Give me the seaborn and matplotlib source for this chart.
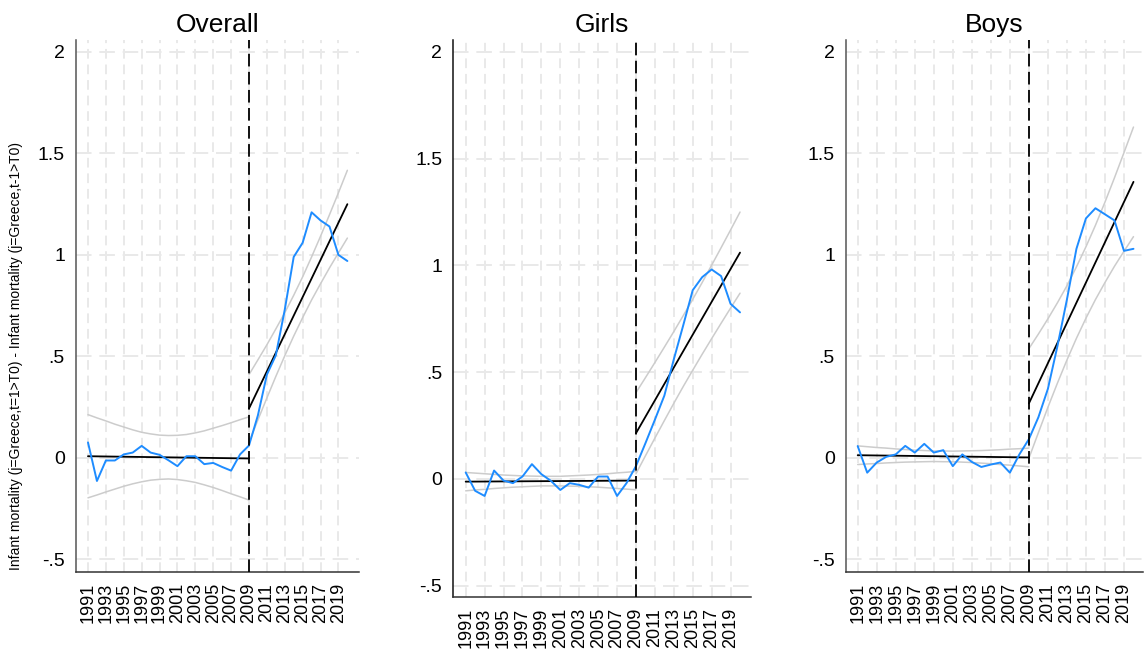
import matplotlib
matplotlib.use("Agg")
import matplotlib.pyplot as plt
import seaborn as sns
import pandas as pd

# ---------------- data ----------------
years = list(range(1991, 2021))
pre_years = list(range(1991, 2010))
post_years = list(range(2009, 2021))
treat_year = 2009

panel_titles = ["Overall", "Girls", "Boys"]

overall_gap = [0.076, -0.114, -0.013, -0.013, 0.017, 0.026, 0.059, 0.026, 0.015, -0.012,
               -0.041, 0.008, 0.008, -0.031, -0.025, -0.045, -0.063, 0.017, 0.061,
               0.21, 0.41, 0.505, 0.73, 0.99, 1.06, 1.21, 1.17, 1.14, 1.0, 0.97]
girls_gap = [0.030, -0.056, -0.080, 0.039, -0.008, -0.020, 0.011, 0.069, 0.022, -0.009,
             -0.052, -0.020, -0.028, -0.041, 0.011, 0.011, -0.080, -0.020, 0.06,
             0.167, 0.277, 0.39, 0.56, 0.72, 0.884, 0.945, 0.981, 0.95, 0.82, 0.78]
boys_gap = [0.058, -0.073, -0.023, 0.005, 0.017, 0.059, 0.026, 0.069, 0.026, 0.038,
            -0.041, 0.017, -0.020, -0.045, -0.033, -0.023, -0.073, 0.017, 0.092,
            0.2, 0.34, 0.55, 0.78, 1.03, 1.18, 1.23, 1.20, 1.17, 1.02, 1.03]

# linear trend end points (pre: 1991-2009, post: 2009-2020)
overall_fit_pre = [0.008, -0.003]
overall_fit_post = [0.243, 1.25]
girls_fit_pre = [-0.013, -0.008]
girls_fit_post = [0.214, 1.06]
boys_fit_pre = [0.013, 0.002]
boys_fit_post = [0.268, 1.36]

# confidence bands
overall_pre_hi = [0.213, 0.197, 0.182, 0.166, 0.152, 0.138, 0.126, 0.118, 0.112, 0.110,
                  0.111, 0.115, 0.123, 0.133, 0.146, 0.159, 0.173, 0.188, 0.202]
overall_pre_lo = [-0.197, -0.183, -0.168, -0.154, -0.140, -0.128, -0.118, -0.110, -0.106, -0.104,
                  -0.107, -0.113, -0.121, -0.133, -0.146, -0.161, -0.177, -0.192, -0.208]
overall_post_hi = [0.410, 0.483, 0.557, 0.635, 0.715, 0.801, 0.892, 0.990, 1.092, 1.198, 1.306, 1.417]
overall_post_lo = [0.076, 0.187, 0.295, 0.401, 0.503, 0.600, 0.691, 0.778, 0.858, 0.936, 1.010, 1.083]

girls_pre_hi = [0.030, 0.027, 0.024, 0.021, 0.018, 0.016, 0.014, 0.013, 0.012, 0.012,
                0.012, 0.014, 0.016, 0.018, 0.021, 0.024, 0.028, 0.031, 0.035]
girls_pre_lo = [-0.056, -0.052, -0.049, -0.045, -0.042, -0.039, -0.037, -0.035, -0.033, -0.033,
                -0.033, -0.034, -0.035, -0.037, -0.039, -0.042, -0.045, -0.048, -0.051]
girls_post_hi = [0.404, 0.474, 0.545, 0.617, 0.690, 0.765, 0.841, 0.920, 1.001, 1.083, 1.166, 1.25]
girls_post_lo = [0.024, 0.108, 0.191, 0.273, 0.354, 0.433, 0.509, 0.584, 0.657, 0.729, 0.800, 0.870]

boys_pre_hi = [0.059, 0.055, 0.051, 0.048, 0.044, 0.041, 0.038, 0.036, 0.034, 0.034,
               0.033, 0.034, 0.035, 0.036, 0.038, 0.040, 0.043, 0.045, 0.048]
boys_pre_lo = [-0.033, -0.030, -0.028, -0.025, -0.023, -0.021, -0.020, -0.019, -0.018, -0.019,
               -0.019, -0.021, -0.023, -0.026, -0.029, -0.033, -0.036, -0.040, -0.044]
boys_post_hi = [0.538, 0.610, 0.685, 0.764, 0.848, 0.941, 1.040, 1.146, 1.260, 1.380, 1.504, 1.630]
boys_post_lo = [-0.002, 0.124, 0.249, 0.368, 0.482, 0.589, 0.688, 0.780, 0.864, 0.944, 1.018, 1.090]

y_ticks = [-0.5, 0, 0.5, 1, 1.5, 2]
y_tick_labels = ["-.5", "0", ".5", "1", "1.5", "2"]
x_ticks = list(range(1991, 2020, 2))
y_label = "Infant mortality (j=Greece,t=1>T0) - Infant mortality (j=Greece,t-1>T0)"

# ---------------- style ----------------
sns.set_style("white")
plt.rcParams["font.family"] = ["Liberation Sans", "DejaVu Sans"]
plt.rcParams["text.color"] = "black"
plt.rcParams["axes.labelcolor"] = "black"
plt.rcParams["xtick.color"] = "black"
plt.rcParams["ytick.color"] = "black"

fig = plt.figure(figsize=(11.44, 6.52), dpi=100)

W, H = 1144.0, 652.0
# (left px, top px, right px, bottom px, ylim, xlim, spine colour)
layouts = [
    (76, 40, 359, 571.7, (-0.561, 2.059), (1989.66, 2021.3), "#555555"),
    (453.3, 40, 751, 596.7, (-0.552, 2.056), (1989.69, 2021.16), "#111111"),
    (846, 40, 1143, 571.7, (-0.561, 2.059), (1989.77, 2021.0), "#555555"),
]

panels = [
    (overall_gap, overall_fit_pre, overall_fit_post, overall_pre_hi, overall_pre_lo, overall_post_hi, overall_post_lo),
    (girls_gap, girls_fit_pre, girls_fit_post, girls_pre_hi, girls_pre_lo, girls_post_hi, girls_post_lo),
    (boys_gap, boys_fit_pre, boys_fit_post, boys_pre_hi, boys_pre_lo, boys_post_hi, boys_post_lo),
]

blue = "#1e8cff"
band_col = "#cccccc"
grid_col = "#e9e9e9"

for i, (title, lay, pdata) in enumerate(zip(panel_titles, layouts, panels)):
    l, t, r, b, ylim, xlim, spcol = lay
    ax = fig.add_axes([l / W, (H - b) / H, (r - l) / W, (b - t) / H])
    gap, fpre, fpost, phi, plo, qhi, qlo = pdata

    # grid
    for xv in x_ticks:
        ax.axvline(xv, color=grid_col, lw=1.4, ls=(0, (5, 3)), zorder=0)
    for yv in y_ticks:
        ax.axhline(yv, color=grid_col, lw=1.4, ls=(0, (8, 4)), zorder=0)

    # confidence bands
    for yrs, vals in [(pre_years, phi), (pre_years, plo), (post_years, qhi), (post_years, qlo)]:
        sns.lineplot(x=yrs, y=vals, ax=ax, color=band_col, lw=1.1, zorder=2)

    # fitted trends
    sns.lineplot(x=[1991, treat_year], y=fpre, ax=ax, color="black", lw=1.3, zorder=3)
    sns.lineplot(x=[treat_year, 2020], y=fpost, ax=ax, color="black", lw=1.3, zorder=3)

    # observed gap
    df = pd.DataFrame({"year": years, "gap": gap})
    sns.lineplot(data=df, x="year", y="gap", ax=ax, color=blue, lw=1.4, zorder=4)

    # treatment line
    ax.axvline(treat_year, color="black", lw=1.3, ls=(0, (7, 3)), zorder=5)

    ax.set_xlim(*xlim)
    ax.set_ylim(*ylim)
    ax.set_xticks(x_ticks)
    ax.set_xticklabels([str(x) for x in x_ticks], rotation=90, fontsize=13)
    ax.set_yticks(y_ticks)
    ax.set_yticklabels(y_tick_labels, fontsize=14)
    ax.tick_params(axis="both", direction="out", length=5, width=1, color="#333333", pad=3)
    ax.set_xlabel("")
    if i == 0:
        ax.set_ylabel(y_label, fontsize=10)
        ax.yaxis.set_label_coords(-0.187, 0.406)
    else:
        ax.set_ylabel("")
    ax.set_title(title, fontsize=19, pad=6)

    for s in ["top", "right"]:
        ax.spines[s].set_visible(False)
    ax.spines["left"].set_color(spcol)
    ax.spines["bottom"].set_color("#333333")
    for s in ["left", "bottom"]:
        ax.spines[s].set_linewidth(1.1)
    ax.grid(False)

fig.savefig("out.png", dpi=100)
